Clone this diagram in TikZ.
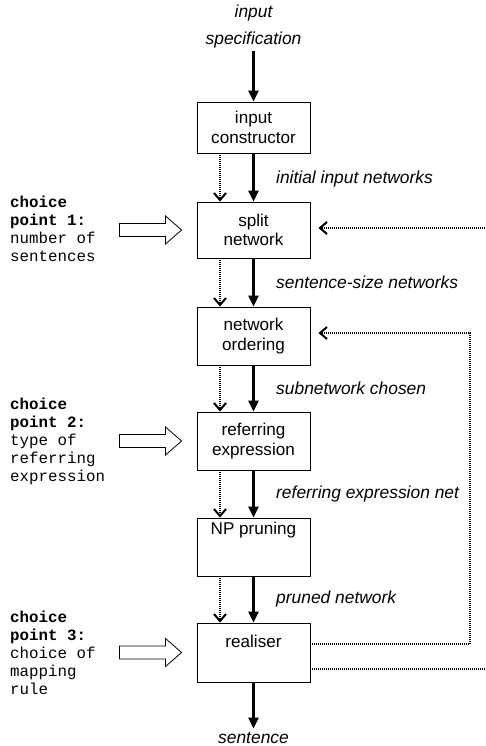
\documentclass[tikz,border=0pt]{standalone}
\usepackage{fontspec}
\setmainfont{Liberation Sans}
\setmonofont{Liberation Mono}
\usetikzlibrary{arrows.meta}
\begin{document}
\begin{tikzpicture}[x=1pt,y=-1pt,
  box/.style={draw, line width=0.9pt, minimum width=113pt, inner sep=0pt, align=center, font=\fontsize{17.1}{19.5}\selectfont},
  main/.style={line width=2.4pt, -{Triangle[width=10pt,length=11pt]}},
  dotline/.style={line width=2.2pt, dash pattern=on 1pt off 1pt},
  dots/.style={dotline, -{Straight Barb[width=12pt,length=7pt,line width=2pt]}},
  lab/.style={font=\fontsize{17.4}{19}\selectfont\itshape, anchor=base west, inner sep=0pt},
  choice/.style={font=\fontsize{15.8}{18}\selectfont\ttfamily, align=left, anchor=north west, inner sep=0pt},
  hollow/.pic={\draw[line width=0.8pt] (0,0) -- (-16,-14) -- (-16,-6.5) -- (-62,-6.5) -- (-62,6.5) -- (-16,6.5) -- (-16,14) -- cycle;}
]
\useasboundingbox (0,0) rectangle (485,746);
\coordinate (dx) at (220,0);
% boxes
\node[box, minimum height=51pt] (ic) at (253.5,127.5) {input\\constructor};
\node[box, minimum height=56pt] (sn) at (253.5,230) {split\\network};
\node[box, minimum height=58pt] (no) at (253.5,336) {network\\ordering};
\node[box, minimum height=58pt] (re) at (253.5,441) {referring\\expression};
\node[box, minimum height=58pt, text height=12pt, text depth=37pt] (np) at (253.5,547) {NP pruning};
\node[box, minimum height=59pt, text height=12pt, text depth=23pt] (rl) at (253.5,652.5) {realiser};
% top / bottom texts
\node[anchor=north, align=center, inner sep=0pt, font=\fontsize{17.4}{27}\selectfont\itshape] (spec) at (253.5,5) {input\\specification};
\node[anchor=base, inner sep=0pt, font=\fontsize{17.4}{19}\selectfont\itshape] (sent) at (253.5,743) {sentence};
\draw[main, shorten <=2pt] (spec) -- (ic.north);
\draw[main, shorten >=3pt] (rl.south) -- (sent.north);
% vertical flow
\foreach \a/\b in {ic/sn, sn/no, no/re, re/np, np/rl}{
  \draw[main] (\a.south) -- (\b.north);
  \draw[dots] (\a.south -| dx) -- (\b.north -| dx);
}
% labels
\node[lab] (l1) at (276,183) {initial input networks};
\node[lab] (l2) at (276,288) {sentence-size networks};
\node[lab] (l3) at (276,394) {subnetwork chosen};
\node[lab] (l4) at (276,498) {referring expression net};
\node[lab] (l5) at (276,603) {pruned network};
% feedback
\coordinate (c1) at (470,333);
\coordinate (r1) at (485,228);
\coordinate (r2) at (485,669);
\draw[dots] ([yshift=8.5pt]rl.east) -| (c1) -- ([xshift=8pt]no.east |- c1);
\draw[dots] (r1) -- ([xshift=8pt]sn.east |- r1);
\draw[dotline] ([yshift=-16.5pt]rl.east) -- (r2);
% choice points
\node[choice] (cp1) at (10,196) {\textbf{choice}\\\textbf{point 1:}\\number of\\sentences};
\node[choice] (cp2) at (10,398) {\textbf{choice}\\\textbf{point 2:}\\type of\\referring\\expression};
\node[choice] (cp3) at (10,611) {\textbf{choice}\\\textbf{point 3:}\\choice of\\mapping\\rule};
\pic at ([xshift=-15pt]sn.west) {hollow};
\pic at ([xshift=-15pt]re.west) {hollow};
\pic at ([xshift=-15pt]rl.west) {hollow};
\end{tikzpicture}
\end{document}
